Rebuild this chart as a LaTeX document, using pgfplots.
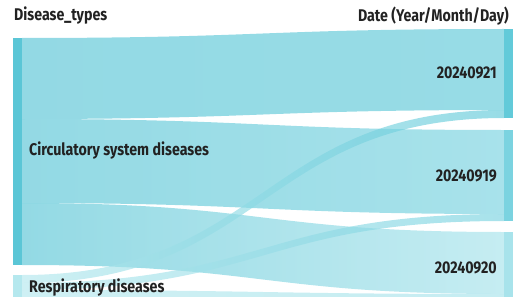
\documentclass[border=0pt]{standalone}
\usepackage{pgfplots}
\pgfplotsset{compat=1.18}
\usepackage{fontspec}
\setmainfont{Fira Sans}[FakeStretch=0.84]
\definecolor{cCirc}{HTML}{5BC6D6}
\definecolor{cTwentyOne}{HTML}{62CAD9}
\definecolor{cNineteen}{HTML}{7BD3E0}
\definecolor{cTwenty}{HTML}{A8E3EB}
\definecolor{cResp}{HTML}{B5E8EE}
\definecolor{txt}{HTML}{222222}
% flow: left top y, right top y, width, source colour, target colour
\newcommand\flow[5]{%
  \pgfmathsetmacro\ylb{#1+#3}\pgfmathsetmacro\yrb{#2+#3}%
  \edef\doflow{\noexpand\shade[left color=#4, right color=#5, fill opacity=0.66, draw=none]
    (axis cs:22,#1) .. controls (axis cs:263,#1) and (axis cs:263,#2) .. (axis cs:504,#2)
    -- (axis cs:504,\yrb) .. controls (axis cs:263,\yrb) and (axis cs:263,\ylb) .. (axis cs:22,\ylb) -- cycle;}%
  \doflow}
\begin{document}
\begin{tikzpicture}
\path[use as bounding box, clip] (0,0) rectangle (519bp,297bp);
\begin{axis}[at={(0,0)}, anchor=south west, width=519bp, height=297bp, scale only axis,
  xmin=0, xmax=519, ymin=0, ymax=297, y dir=reverse, hide axis, clip=false]
% flows (values in px of node height)
\flow{38}{29}{81}{cCirc}{cTwentyOne}
\flow{119}{130}{84}{cCirc}{cNineteen}
\flow{203}{232}{62}{cCirc}{cTwenty}
\flow{275}{110}{8}{cResp}{cTwentyOne}
\flow{283}{214}{7}{cResp}{cNineteen}
\flow{290}{294}{10}{cResp}{cTwenty}
% nodes
\addplot[fill=cCirc, draw=none] coordinates {(13,38) (22,38) (22,265) (13,265)} --cycle;
\addplot[fill=cResp, draw=none] coordinates {(13,275) (22,275) (22,300) (13,300)} --cycle;
\addplot[fill=cTwentyOne, draw=none] coordinates {(504,29) (513,29) (513,118) (504,118)} --cycle;
\addplot[fill=cNineteen, draw=none] coordinates {(504,130) (513,130) (513,221) (504,221)} --cycle;
\addplot[fill=cTwenty, draw=none] coordinates {(504,232) (513,232) (513,304) (504,304)} --cycle;
% labels
\begin{scope}[every node/.style={font=\bfseries\fontsize{17}{20}\selectfont, text=txt, inner sep=0pt}]
\node[anchor=west] at (axis cs:14,16) {Disease\_types};
\node[anchor=east] at (axis cs:509,16) {Date (Year/Month/Day)};
\node[anchor=west] at (axis cs:29,151) {Circulatory system diseases};
\node[anchor=west] at (axis cs:29,288) {Respiratory diseases};
\node[anchor=east] at (axis cs:497,73) {20240921};
\node[anchor=east] at (axis cs:497,176) {20240919};
\node[anchor=east] at (axis cs:497,268) {20240920};
\end{scope}
\end{axis}
\end{tikzpicture}
\end{document}
